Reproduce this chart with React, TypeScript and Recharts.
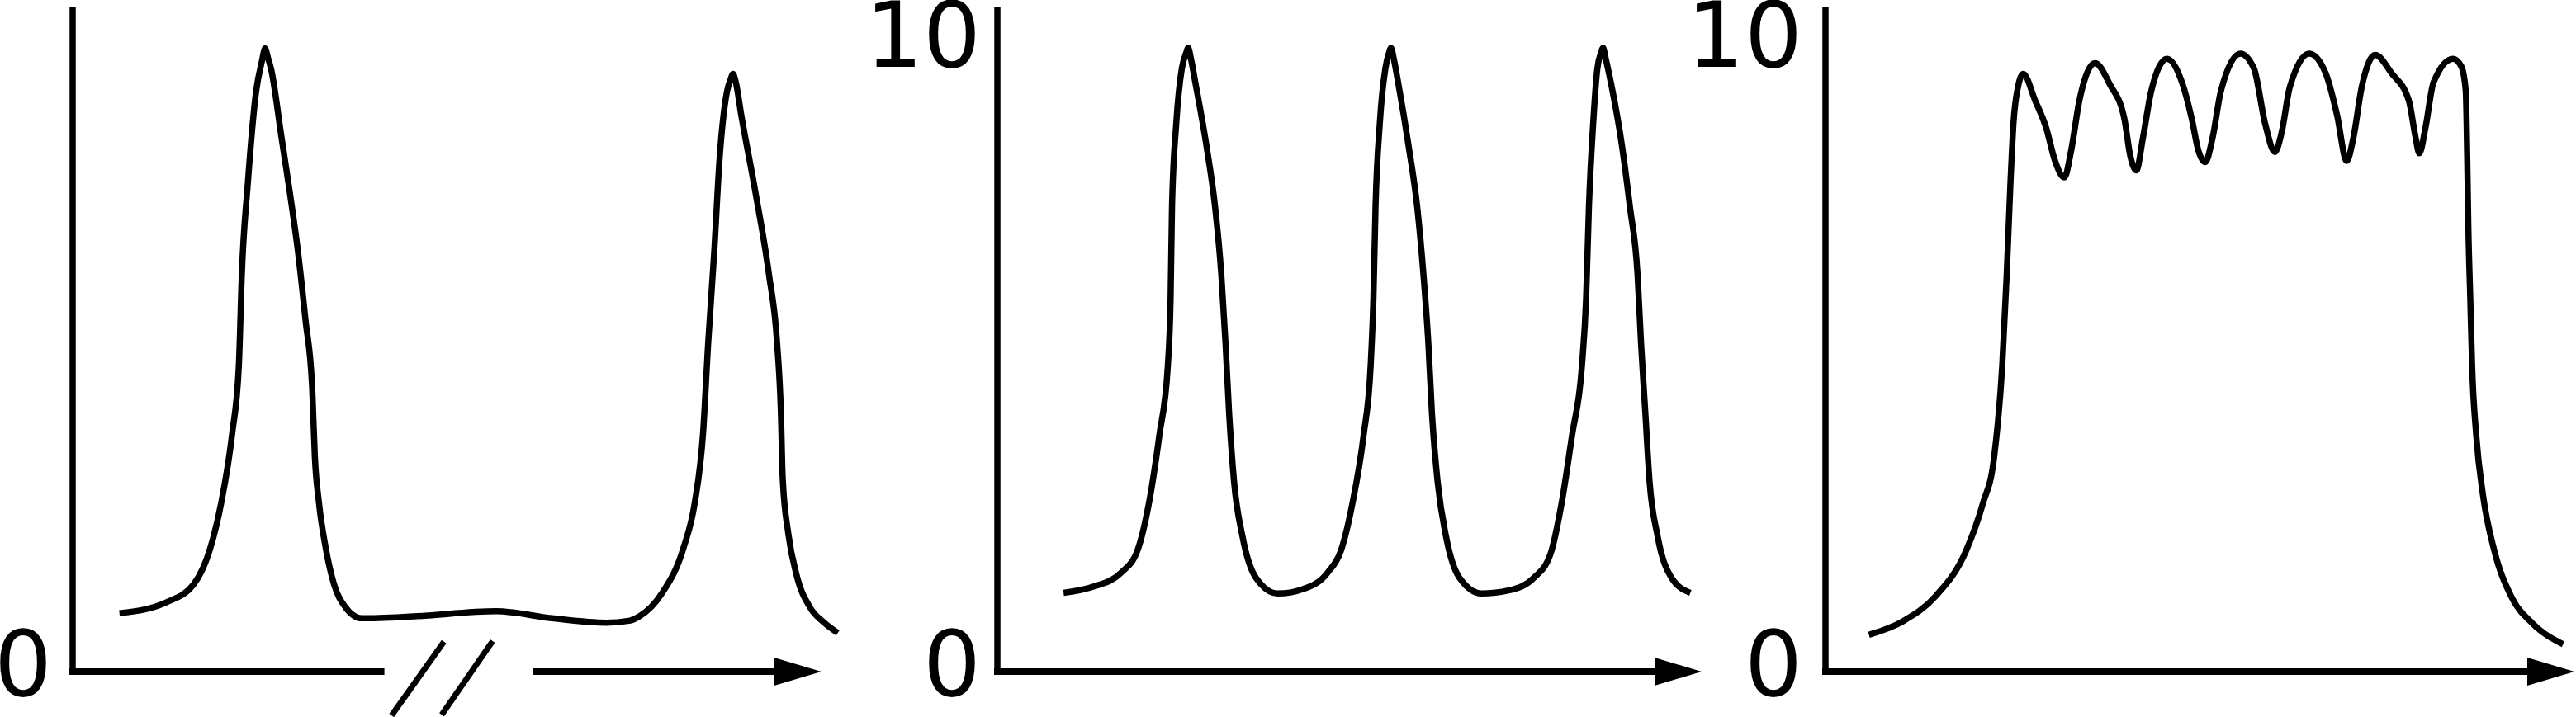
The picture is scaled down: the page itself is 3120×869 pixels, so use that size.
import { LineChart, Line, XAxis, YAxis, ReferenceLine, ReferenceDot } from "recharts";

// panel 1: two isolated peaks with a broken time axis
const p1X = [6.25, 12.5, 16.2, 18.4, 19.85, 21.3, 22.2, 22.6, 23.4, 24.5, 25.3, 25.7, 26.1, 26.5, 27.9, 29.0, 30.1, 31.1, 32.0, 32.35, 32.9, 33.8, 34.9, 36.4, 38.6, 45.6, 56.6, 64.0, 71.3, 74.3, 75.7, 78.7, 81.6, 83.1, 84.2, 84.9, 85.7, 86.4, 87.4, 87.9, 88.2, 88.6, 89.3, 91.2, 93.0, 94.1, 94.6, 94.85, 95.6, 96.7, 98.5, 100.4, 102.2];
const p1Y = [0.92, 1.09, 1.38, 1.95, 2.66, 3.74, 4.82, 6.26, 7.69, 9.13, 9.62, 9.81, 9.66, 9.49, 8.41, 7.55, 6.61, 5.54, 4.46, 3.39, 2.66, 1.95, 1.38, 1.02, 0.84, 0.87, 0.95, 0.84, 0.77, 0.8, 0.87, 1.23, 1.95, 2.66, 3.74, 5.19, 6.61, 8.05, 9.13, 9.33, 9.41, 9.27, 8.77, 7.55, 6.26, 5.17, 4.1, 3.03, 2.17, 1.52, 1.01, 0.77, 0.61];

// panel 2: three regular peaks
const p2X = [9.4, 13.7, 17.6, 19.9, 21.5, 23.0, 24.2, 24.6, 24.8, 25.4, 26.2, 26.8, 27.1, 27.5, 28.1, 29.7, 30.9, 31.8, 32.4, 32.9, 33.6, 34.8, 36.7, 39.8, 43.4, 46.9, 48.8, 50.4, 52.0, 53.0, 53.4, 53.7, 54.3, 55.1, 55.6, 55.9, 56.3, 56.9, 58.4, 59.6, 60.5, 61.2, 61.7, 62.5, 63.7, 65.6, 68.75, 72.7, 76.2, 78.5, 80.1, 81.6, 83.0, 83.6, 84.0, 84.6, 85.2, 85.7, 86.0, 86.4, 87.1, 88.7, 89.8, 90.9, 91.4, 92.0, 92.6, 93.75, 95.7, 98.4];
const p2Y = [1.24, 1.34, 1.56, 1.91, 2.64, 3.72, 4.81, 5.89, 7.33, 8.63, 9.5, 9.74, 9.82, 9.64, 9.28, 8.27, 7.33, 6.25, 5.16, 4.08, 3.0, 2.13, 1.48, 1.23, 1.3, 1.56, 1.91, 2.64, 3.72, 4.81, 5.89, 7.33, 8.63, 9.5, 9.74, 9.82, 9.64, 9.28, 8.27, 7.33, 6.25, 5.16, 4.08, 3.0, 2.13, 1.48, 1.23, 1.28, 1.48, 1.84, 2.64, 3.72, 4.81, 5.89, 7.33, 8.63, 9.5, 9.74, 9.82, 9.64, 9.28, 8.27, 7.33, 6.25, 5.16, 4.08, 3.0, 2.13, 1.48, 1.24];

// panel 3: broad plateau with ripples
const p3X = [5.8, 10.3, 14.8, 18.8, 21.0, 22.5, 23.6, 24.2, 24.7, 25.1, 25.7, 26.4, 28.0, 29.5, 30.6, 31.9, 32.8, 33.9, 36.0, 38.0, 39.9, 40.7, 41.5, 42.4, 43.5, 45.6, 47.6, 48.9, 49.8, 50.7, 51.7, 52.8, 55.4, 57.2, 58.7, 60.0, 60.9, 62.0, 64.6, 66.8, 68.3, 69.6, 70.5, 71.6, 73.4, 75.6, 77.9, 78.8, 79.3, 80.1, 81.2, 83.8, 84.9, 85.5, 85.7, 85.85, 86.1, 86.35, 86.9, 87.8, 89.3, 91.5, 94.5, 98.5];
const p3Y = [0.58, 0.79, 1.2, 1.91, 2.64, 3.36, 4.81, 6.25, 7.69, 8.63, 9.2, 9.41, 8.99, 8.55, 8.06, 7.78, 8.2, 8.99, 9.58, 9.24, 8.71, 8.12, 7.89, 8.41, 9.14, 9.65, 9.28, 8.71, 8.2, 8.02, 8.41, 9.14, 9.73, 9.5, 8.63, 8.18, 8.48, 9.2, 9.73, 9.42, 8.77, 8.04, 8.41, 9.2, 9.71, 9.42, 8.99, 8.41, 8.16, 8.55, 9.28, 9.65, 9.53, 9.14, 8.06, 6.97, 5.89, 4.81, 3.72, 2.78, 1.91, 1.2, 0.75, 0.43];

const ticksFirst = [0];
const ticksOther = [0, 10];

// x axis pieces (panel 1 is broken) and the two break slashes
const fullAxis = [[0, 100]];
const p1AxisPieces = [[0, 41.2], [61.5, 100]];
const p1Slashes = [
  [{ x: 49.6, y: 0.47 }, { x: 42.6, y: -0.69 }],
  [{ x: 56.1, y: 0.48 }, { x: 49.3, y: -0.68 }],
];

const rows = (xs: number[], ys: number[]) => xs.map((x, i) => ({ x, y: ys[i] }));

const Y_MAX = 10.47;
const INK = "#000";
// only a single family name resolves reliably here
const FONT = "DejaVu Sans";

function renderTick(p: any) {
  const v = p.payload.value;
  return (
    <text
      key={`t${v}`}
      x={p.x}
      y={p.y + (v === 0 ? -10 : -2)}
      dy="0.355em"
      textAnchor="end"
      fontSize={110}
      fontFamily={FONT}
      fill={INK}
    >
      {v}
    </text>
  );
}

const ArrowHead = (props: any) => {
  const { cx, cy } = props;
  return <path d={`M${cx},${cy} L${cx - 57},${cy - 17} L${cx - 57},${cy + 17} Z`} fill={INK} />;
};

function Panel({ left, width, yWidth, tickMargin, xMax, data, ticks, pieces, slashes }: any) {
  return (
    <div style={{ position: "absolute", left, top: 0 }}>
      <LineChart width={width} height={869} data={data} margin={{ top: 8, right: 0, bottom: 55, left: 0 }}>
        <XAxis type="number" dataKey="x" domain={[0, xMax]} hide />
        <YAxis
          type="number"
          domain={[0, Y_MAX]}
          ticks={ticks}
          interval={0}
          tickLine={false}
          tickSize={0}
          tickMargin={tickMargin}
          width={yWidth}
          tick={renderTick}
          axisLine={{ stroke: INK, strokeWidth: 7.5 }}
        />
        {pieces.map(([a, b]: number[], i: number) => {
          // the piece that carries the arrow stops under the arrowhead
          const end = b === 100 ? b - 3 : b;
          return (
            <ReferenceLine
              key={`piece${i}`}
              segment={[{ x: a, y: 0 }, { x: end, y: 0 }]}
              stroke={INK}
              strokeWidth={8}
              strokeLinecap={i === 0 ? "square" : "butt"}
              ifOverflow="visible"
            />
          );
        })}
        {slashes.map((seg: any, i: number) => (
          <ReferenceLine key={`slash${i}`} segment={seg} stroke={INK} strokeWidth={7} ifOverflow="visible" />
        ))}
        <ReferenceDot x={100} y={0} ifOverflow="visible" shape={<ArrowHead />} />
        <Line
          type="monotone"
          dataKey="y"
          stroke={INK}
          strokeWidth={7.5}
          dot={false}
          activeDot={false}
          isAnimationActive={false}
        />
      </LineChart>
    </div>
  );
}

export default function App() {
  return (
    <div style={{ position: "absolute", left: 0, top: 0, width: 3120, height: 869, background: "#fff" }}>
      <Panel left={0} width={1031} yWidth={88} tickMargin={25} xMax={104} data={rows(p1X, p1Y)} ticks={ticksFirst} pieces={p1AxisPieces} slashes={p1Slashes} />
      <Panel left={1030} width={1031} yWidth={178} tickMargin={20} xMax={100} data={rows(p2X, p2Y)} ticks={ticksOther} pieces={fullAxis} slashes={[]} />
      <Panel left={2040} width={1078} yWidth={171} tickMargin={28} xMax={100} data={rows(p3X, p3Y)} ticks={ticksOther} pieces={fullAxis} slashes={[]} />
    </div>
  );
}
